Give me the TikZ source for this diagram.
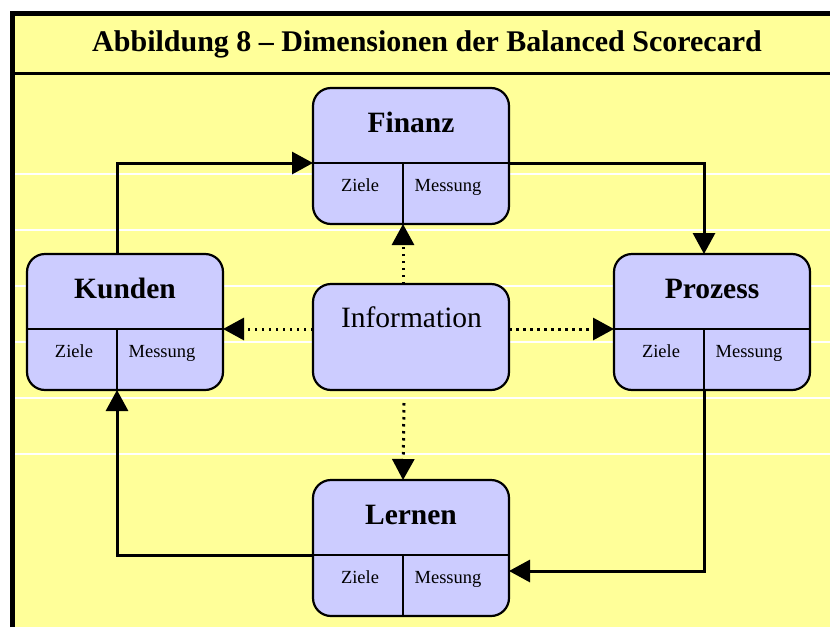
\documentclass[tikz,border=0pt]{standalone}
\usepackage{fontspec}
\setmainfont{Liberation Serif}
\usetikzlibrary{arrows.meta,calc}

\definecolor{paper}{HTML}{FFFF99}
\definecolor{lilac}{HTML}{CCCCFF}

\tikzset{
  pbox/.style={draw, line width=2.2pt, rounded corners=18pt, fill=lilac,
    minimum width=196pt, minimum height=136pt, inner sep=0pt, outer sep=0pt,
    anchor=north west},
  ibox/.style={pbox, minimum height=106pt},
  divline/.style={line width=2.2pt},
  flow/.style={line width=3pt, -{Triangle[length=21pt,width=22pt]}},
  infoflow/.style={line width=3pt, dash pattern=on 2.5pt off 4.5pt,
    -{Triangle[length=21pt,width=22pt]}},
  headfont/.style={font=\fontsize{29.5}{32}\selectfont\bfseries},
  cellfont/.style={font=\fontsize{18.5}{20}\selectfont},
  rule/.style={white, line width=1.2pt},
}

% perspective box: name, left, top, title
\newcommand\perspective[4]{%
  \node[pbox] (#1) at (#2,#3) {};
  \coordinate (#1-dl) at (#2,#3+75);
  \coordinate (#1-dr) at (#2+196,#3+75);
  \coordinate (#1-vt) at (#2+90,#3);
  \coordinate (#1-vb) at (#2+90,#3+136);
  \draw[divline] (#1-dl) -- (#1-dr);
  \draw[divline] (#1-vt |- #1-dl) -- (#1-vb);
  \node[headfont, anchor=base] (#1-title) at (#2+98,#3+44) {#4};
  \node[cellfont, anchor=base] (#1-ziele) at (#2+47,#3+103) {Ziele};
  \node[cellfont, anchor=base] (#1-mess) at (#2+135,#3+103) {Messung};
}

\begin{document}
\begin{tikzpicture}[x=1pt, y=-1pt]
  \useasboundingbox (0,0) rectangle (830,627);

  % sheet and frame
  \fill[paper] (12,12) rectangle (830,627);
  \foreach \yy in {174,230,286,342,398,454}
    \draw[rule] (15,\yy) -- (830,\yy);
  \draw[line width=5pt] (12.5,627) -- (12.5,13.5) -- (830,13.5);
  \draw[line width=3pt] (15,73.5) -- (830,73.5);
  \node[font=\fontsize{30}{33}\selectfont\bfseries, anchor=base] (title) at (427,51)
    {Abbildung 8 – Dimensionen der Balanced Scorecard};

  % the four perspectives
  \perspective{Finanz}{313}{88}{Finanz}
  \perspective{Kunden}{27}{254}{Kunden}
  \perspective{Prozess}{614}{254}{Prozess}
  \perspective{Lernen}{313}{480}{Lernen}

  % central information box
  \node[ibox] (Info) at (313,284) {};
  \node[font=\fontsize{29.5}{32}\selectfont, anchor=base] (Info-text) at (411.5,327) {Information};

  % cycle between the perspectives
  \coordinate (Lernen-in) at (509,571);
  \draw[flow] (Kunden-vt) |- (Finanz-dl);
  \draw[flow] (Finanz-dr) -| (Prozess-vt);
  \draw[flow] (Prozess-vb) |- (Lernen-in);
  \draw[flow] (Lernen-dl) -| (Kunden-vb);

  % information flows
  \coordinate (Info-down) at (404,403);
  \draw[infoflow] (Finanz-vb |- Info.north) -- (Finanz-vb);
  \draw[infoflow] (Info.west |- Kunden-dr) -- (Kunden-dr);
  \draw[infoflow] (Info.east |- Prozess-dl) -- (Prozess-dl);
  \draw[infoflow] (Info-down) -- (Lernen-vt);
\end{tikzpicture}
\end{document}
